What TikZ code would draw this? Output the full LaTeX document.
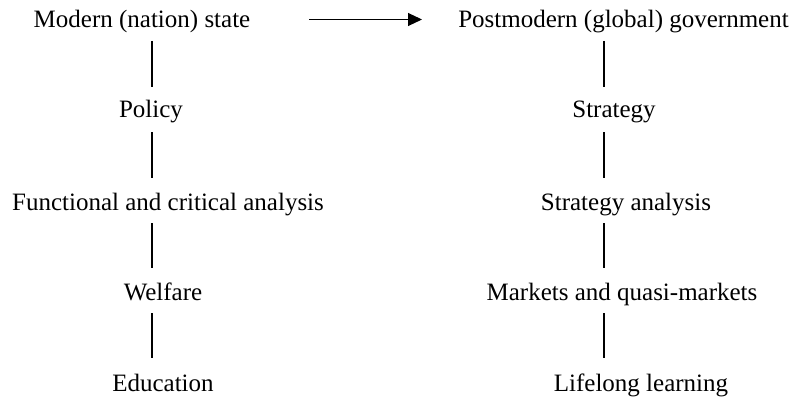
\documentclass[tikz,border=0pt]{standalone}
\usepackage{fontspec}
\setmainfont{Liberation Serif}
\usetikzlibrary{arrows.meta}
\begin{document}
\begin{tikzpicture}[x=1pt,y=-1pt,
  lbl/.style={anchor=base,inner sep=0pt,font=\fontsize{25}{28}\selectfont},
  link/.style={line width=1.1pt},
  arr/.style={line width=1.1pt,-{Triangle[length=14pt,width=13pt]}}]
\useasboundingbox (0,0) rectangle (797,396);
% left column
\node[lbl] (m1) at (142,28) {Modern (nation) state};
\node[lbl] (m2) at (151,117) {Policy};
\node[lbl] (m3) at (168,210) {Functional and critical analysis};
\node[lbl] (m4) at (163,300) {Welfare};
\node[lbl] (m5) at (163,391) {Education};
% right column
\node[lbl] (p1) at (623.5,28) {Postmodern (global) government};
\node[lbl] (p2) at (614,117) {Strategy};
\node[lbl] (p3) at (626,210) {Strategy analysis};
\node[lbl] (p4) at (622,300) {Markets and quasi-markets};
\node[lbl] (p5) at (641,391) {Lifelong learning};
% connector ends
\coordinate (la1) at (152,41);  \coordinate (lb1) at (152,87);
\coordinate (la2) at (152,132); \coordinate (lb2) at (152,178);
\coordinate (la3) at (152,223); \coordinate (lb3) at (152,268);
\coordinate (la4) at (152,313); \coordinate (lb4) at (152,358);
\coordinate (ra1) at (604,41);  \coordinate (rb1) at (604,87);
\coordinate (ra2) at (604,132); \coordinate (rb2) at (604,178);
\coordinate (ra3) at (604,223); \coordinate (rb3) at (604,268);
\coordinate (ra4) at (604,313); \coordinate (rb4) at (604,358);
\foreach \i in {1,2,3,4}{
  \draw[link] (la\i) -- (lb\i);
  \draw[link] (ra\i) -- (rb\i);
}
\coordinate (as) at (309,19.5);
\coordinate (ae) at (422,19.5);
\draw[arr] (as) -- (ae);
\end{tikzpicture}
\end{document}
